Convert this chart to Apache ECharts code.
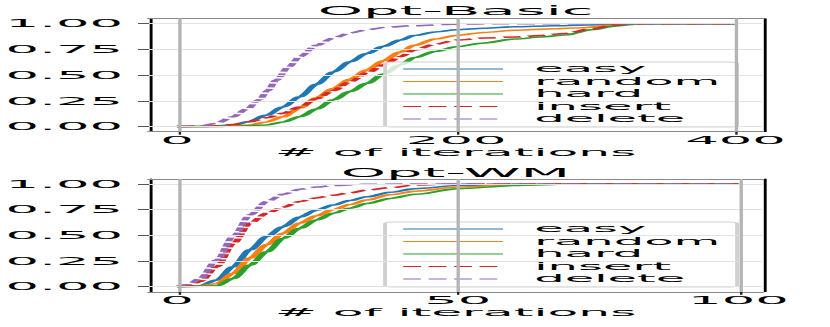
<!DOCTYPE html>
<html>
<head>
<meta charset="utf-8">
<script src="https://cdn.jsdelivr.net/npm/echarts@6/dist/echarts.min.js"></script>
<style>
html,body{margin:0;padding:0;background:#fff;overflow:hidden;width:830px;height:327px;}
#chart{width:173px;height:327px;transform:scaleX(4.797688);transform-origin:0 0;}
</style>
</head>
<body>
<div id="chart"></div>
<script>
// ---------- data ----------
const seriesNames = ['easy', 'random', 'hard', 'insert', 'delete'];
const seriesColors = ['#1f77b4', '#ff7f0e', '#2ca02c', '#d62728', '#9467bd'];
const seriesDashed = [false, false, false, true, true];

const titles = ['Opt-Basic', 'Opt-WM'];
const xAxisName = '# of iterations';
const yTicks = [0, 0.25, 0.5, 0.75, 1.0];
const basicTicks = [0, 200, 400];
const wmTicks = [0, 50, 100];

// Opt-Basic
const basicEasyX   = [0, 20, 40, 52, 64, 76, 88, 100, 112, 124, 136, 148, 160, 170, 185, 200, 220, 242, 270, 301, 325, 400];
const basicEasyY   = [0, 0, 0.015, 0.05, 0.11, 0.19, 0.29, 0.41, 0.53, 0.63, 0.71, 0.78, 0.84, 0.885, 0.92, 0.94, 0.955, 0.97, 0.98, 0.99, 1.0, 1.0];
const basicRandomX = [0, 30, 52, 64, 76, 88, 100, 112, 124, 136, 148, 160, 170, 185, 200, 220, 242, 270, 290, 313, 330, 400];
const basicRandomY = [0, 0, 0.015, 0.045, 0.095, 0.18, 0.28, 0.37, 0.46, 0.55, 0.64, 0.725, 0.79, 0.85, 0.885, 0.915, 0.935, 0.95, 0.96, 0.985, 1.0, 1.0];
const basicHardX   = [0, 40, 64, 76, 88, 100, 112, 124, 136, 148, 160, 170, 185, 200, 218, 242, 260, 278, 297, 313, 332, 400];
const basicHardY   = [0, 0.003, 0.015, 0.045, 0.095, 0.17, 0.26, 0.34, 0.42, 0.51, 0.60, 0.67, 0.73, 0.775, 0.81, 0.85, 0.87, 0.89, 0.94, 0.975, 1.0, 1.0];
const basicInsertX = [0, 30, 40, 52, 64, 76, 88, 100, 112, 124, 136, 148, 160, 170, 185, 200, 220, 242, 260, 278, 297, 313, 330, 400];
const basicInsertY = [0, 0.005, 0.02, 0.047, 0.085, 0.13, 0.19, 0.27, 0.35, 0.435, 0.52, 0.60, 0.68, 0.745, 0.80, 0.84, 0.86, 0.87, 0.885, 0.905, 0.95, 0.985, 1.0, 1.0];
const basicDeleteX = [0, 16, 28, 40, 50, 59, 65, 71, 80, 88, 100, 112, 124, 136, 150, 169, 200, 230, 400];
const basicDeleteY = [0, 0.005, 0.03, 0.095, 0.17, 0.26, 0.35, 0.45, 0.58, 0.68, 0.79, 0.86, 0.91, 0.94, 0.965, 0.98, 0.995, 1.0, 1.0];

// Opt-WM
const wmEasyX   = [0, 2, 4.1, 7.1, 10, 13, 16, 18.9, 21.9, 24.8, 27.8, 30.8, 33.8, 38, 42.4, 50, 60, 70, 100];
const wmEasyY   = [0, 0.003, 0.01, 0.065, 0.195, 0.36, 0.49, 0.585, 0.68, 0.745, 0.795, 0.84, 0.875, 0.92, 0.955, 0.985, 0.998, 1.0, 1.0];
const wmRandomX = [0, 4.1, 7.1, 10, 13, 16, 18.9, 21.9, 24.8, 27.8, 30.8, 33.8, 38, 42.4, 50, 60, 70, 100];
const wmRandomY = [0, 0.005, 0.03, 0.13, 0.28, 0.41, 0.52, 0.62, 0.69, 0.75, 0.80, 0.845, 0.895, 0.93, 0.97, 0.99, 1.0, 1.0];
const wmHardX   = [0, 4.1, 7.1, 10, 13, 16, 18.9, 21.9, 24.8, 27.8, 30.8, 33.8, 38, 42.4, 50, 60, 70, 100];
const wmHardY   = [0, 0.003, 0.01, 0.08, 0.21, 0.34, 0.47, 0.57, 0.65, 0.715, 0.765, 0.81, 0.86, 0.90, 0.955, 0.985, 1.0, 1.0];
const wmInsertX = [0, 2, 4.1, 7.1, 10, 13, 16, 18.9, 21.9, 24.8, 27.8, 30.8, 33.8, 38, 42.4, 50, 100];
const wmInsertY = [0, 0.01, 0.05, 0.195, 0.42, 0.62, 0.715, 0.775, 0.83, 0.865, 0.89, 0.915, 0.94, 0.965, 0.99, 1.0, 1.0];
const wmDeleteX = [0, 2, 4.1, 7.1, 10, 13, 16, 18.9, 21.9, 24.8, 27.8, 33, 40, 100];
const wmDeleteY = [0, 0.02, 0.08, 0.26, 0.49, 0.70, 0.83, 0.90, 0.95, 0.97, 0.985, 0.997, 1.0, 1.0];

// ---------- build ----------
const FONT = 'DejaVu Sans';
const zip = (xs, ys) => xs.map((x, i) => [x, ys[i]]);
const panels = [
  { ticks: basicTicks, min: -20, max: 419, top: 18.5, height: 113.2, titleTop: 5, legendTop: 62,
    sets: [[basicEasyX, basicEasyY], [basicRandomX, basicRandomY], [basicHardX, basicHardY], [basicInsertX, basicInsertY], [basicDeleteX, basicDeleteY]] },
  { ticks: wmTicks, min: -5, max: 104.2, top: 178.9, height: 112.9, titleTop: 167, legendTop: 222,
    sets: [[wmEasyX, wmEasyY], [wmRandomX, wmRandomY], [wmHardX, wmHardY], [wmInsertX, wmInsertY], [wmDeleteX, wmDeleteY]] }
];

const gridLeft = 31.06, gridWidth = 127.77;
const option = { animation: false, title: [], grid: [], xAxis: [], yAxis: [], legend: [], series: [] };

panels.forEach((p, g) => {
  option.title.push({ text: titles[g], left: gridLeft + gridWidth / 2, textAlign: 'center', top: p.titleTop, padding: 0,
    textStyle: { fontFamily: FONT, fontSize: 12, fontWeight: 'normal', color: '#000' } });
  option.grid.push({ left: gridLeft, width: gridWidth, top: p.top, height: p.height, containLabel: false, outerBoundsMode: 'none' });
  // bottom x axis
  option.xAxis.push({ type: 'value', gridIndex: g, position: 'bottom', min: p.min, max: p.max,
    name: xAxisName, nameLocation: 'middle', nameGap: 13,
    nameTextStyle: { fontFamily: FONT, fontSize: 10.5, color: '#000' },
    axisLine: { show: true, onZero: false, lineStyle: { color: '#888', width: 1 } },
    axisTick: { show: true, customValues: p.ticks, length: 3, lineStyle: { color: '#222', width: 0.5 } },
    axisLabel: { show: true, customValues: p.ticks, margin: 3, fontFamily: FONT, fontSize: 11, color: '#000' },
    splitLine: { show: false } });
  // top spine
  option.xAxis.push({ type: 'value', gridIndex: g, position: 'top', min: p.min, max: p.max,
    axisLine: { show: true, onZero: false, lineStyle: { color: '#888', width: 1 } },
    axisTick: { show: false }, axisLabel: { show: false }, splitLine: { show: false } });
  // left y axis
  option.yAxis.push({ type: 'value', gridIndex: g, position: 'left', min: -0.05, max: 1.05,
    axisLine: { show: true, onZero: false, lineStyle: { color: '#000', width: 0.6 } },
    axisTick: { show: true, customValues: yTicks, length: 2.3, lineStyle: { color: '#555', width: 1 } },
    axisLabel: { show: true, customValues: yTicks, margin: 5.4, fontFamily: FONT, fontSize: 11, color: '#000',
      formatter: v => Number(v).toFixed(2) },
    splitLine: { show: false } });
  // right spine
  option.yAxis.push({ type: 'value', gridIndex: g, position: 'right', min: -0.05, max: 1.05,
    axisLine: { show: true, onZero: false, lineStyle: { color: '#000', width: 0.6 } },
    axisTick: { show: false }, axisLabel: { show: false }, splitLine: { show: false } });

  // grid lines at tick values
  option.series.push({ type: 'line', xAxisIndex: g * 2, yAxisIndex: g * 2, data: [], silent: true, z: 1,
    markLine: { symbol: 'none', silent: true, animation: false, label: { show: false }, emphasis: { disabled: true },
      data: yTicks.map(v => ({ yAxis: v, lineStyle: { color: '#e2e2e2', width: 1.2, type: 'solid' } }))
        .concat(p.ticks.map(v => ({ xAxis: v, lineStyle: { color: '#b4b4b4', width: 0.7, type: 'solid' } }))) } });

  p.sets.forEach((s, i) => {
    option.series.push({ type: 'line', name: seriesNames[i], xAxisIndex: g * 2, yAxisIndex: g * 2,
      data: zip(s[0], s[1]), symbol: 'none', smooth: 0.3, smoothMonotone: 'x', z: 3,
      itemStyle: { color: seriesColors[i] },
      lineStyle: { color: seriesColors[i], width: 1.5, type: seriesDashed[i] ? [3.7, 1.6] : 'solid' },
      emphasis: { disabled: true } });
  });

  option.legend.push({ data: seriesNames, orient: 'vertical', left: 80.25, top: p.legendTop,
    padding: [2, 3.5, 3, 3.2], itemWidth: 20.8, itemHeight: 10, itemGap: 2.5, selectedMode: false,
    itemStyle: { color: 'rgba(0,0,0,0)', borderColor: 'rgba(0,0,0,0)', borderWidth: 0, opacity: 0 },
    lineStyle: { width: 1.2 },
    textStyle: { fontFamily: FONT, fontSize: 10, color: '#000', padding: [0, 0, 0, 1.5] },
    backgroundColor: 'rgba(255,255,255,0.8)', borderColor: '#d0d0d0', borderWidth: 0.8, borderRadius: 1.5 });
});

const chart = echarts.init(document.getElementById('chart'), null, { renderer: 'svg', width: 173, height: 327 });
chart.setOption(option);
</script>
</body>
</html>
